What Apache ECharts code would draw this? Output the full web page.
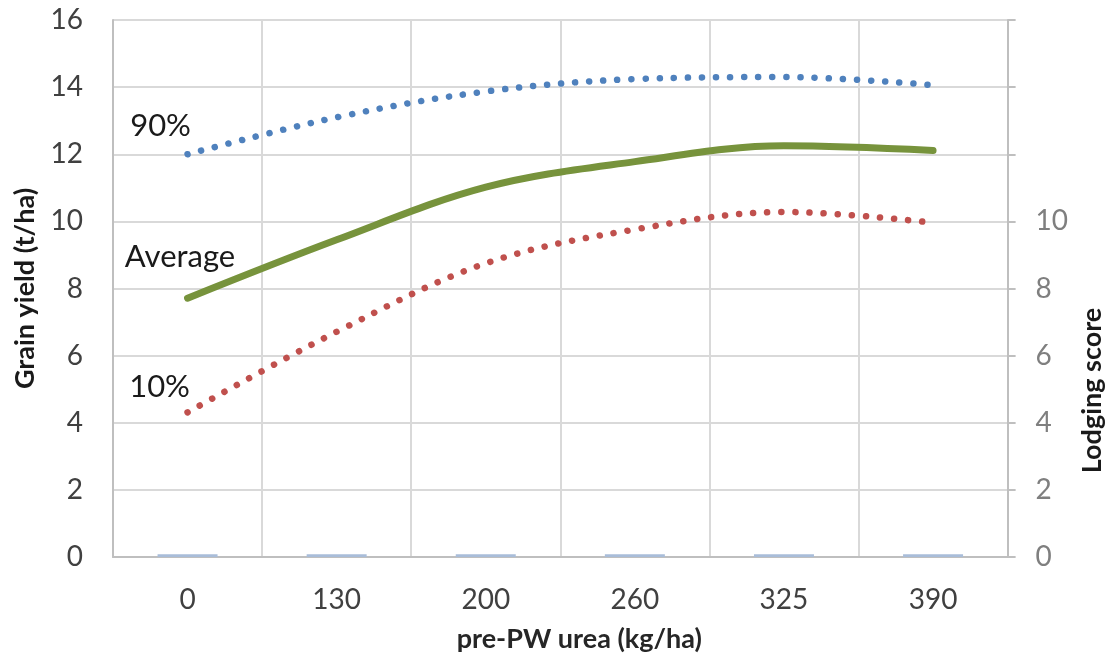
<!DOCTYPE html>
<html>
<head>
<meta charset="utf-8">
<script src="https://cdn.jsdelivr.net/npm/echarts@6/dist/echarts.min.js"></script>
<style>
html,body{margin:0;padding:0;background:#fff;}
#chart{width:1114px;height:659px;}
</style>
</head>
<body>
<div id="chart"></div>
<script>
const categories = ['0', '130', '200', '260', '325', '390'];
const p90 = [12.0, 13.1, 13.87, 14.24, 14.3, 14.06];
const average = [7.71, 9.45, 11.02, 11.78, 12.25, 12.11];
const p10 = [4.31, 6.71, 8.75, 9.76, 10.28, 9.96];
const lodging = [0.08, 0.08, 0.08, 0.08, 0.08, 0.08];
const leftTicks = [0, 2, 4, 6, 8, 10, 12, 14, 16];
const rightLabelMax = 10;

const FONT = 'Lato';
const chart = echarts.init(document.getElementById('chart'));

function tag(text, idx, vals, dx, dy) {
  return {
    symbol: 'circle', symbolSize: 1,
    itemStyle: {color: 'transparent'},
    data: [{
      coord: [categories[idx], vals[idx]],
      label: {show: true, formatter: text, position: 'inside', offset: [dx, dy],
        color: '#1a1a1a', fontSize: 31, fontFamily: FONT}
    }]
  };
}

chart.setOption({
  animation: false,
  textStyle: {fontFamily: FONT},
  grid: {left: 113, right: 102, top: 20, bottom: 102, containLabel: false},
  xAxis: {
    type: 'category', data: categories, boundaryGap: true,
    axisLine: {lineStyle: {color: '#BFBFBF', width: 2}},
    axisTick: {show: false},
    axisLabel: {color: '#404040', fontSize: 28, margin: 29, fontFamily: FONT, interval: 0},
    splitLine: {show: true, interval: 0, lineStyle: {color: '#D9D9D9', width: 2}},
    name: 'pre-PW urea (kg/ha)', nameLocation: 'middle', nameGap: 69,
    nameTextStyle: {color: '#262626', fontSize: 27, fontWeight: 'bold', fontFamily: FONT,
      padding: [0, 0, 0, 38]}
  },
  yAxis: [{
    type: 'value', min: leftTicks[0], max: leftTicks[leftTicks.length - 1], interval: 2,
    axisLine: {show: true, lineStyle: {color: '#BFBFBF', width: 2}},
    axisTick: {show: false},
    axisLabel: {color: '#404040', fontSize: 28, margin: 30, fontFamily: FONT},
    splitLine: {show: true, lineStyle: {color: '#D9D9D9', width: 2}},
    name: 'Grain yield (t/ha)', nameLocation: 'middle', nameGap: 74, nameRotate: 90,
    nameTextStyle: {color: '#1a1a1a', fontSize: 27, fontWeight: 'bold', fontFamily: FONT}
  }, {
    type: 'value', min: 0, max: 16, interval: 2, position: 'right',
    axisLine: {show: true, lineStyle: {color: '#BFBFBF', width: 2}},
    axisTick: {show: true, length: 8, lineStyle: {color: '#BFBFBF', width: 2}},
    axisLabel: {color: '#7F7F7F', fontSize: 28, margin: 28, fontFamily: FONT,
      formatter: v => (v <= rightLabelMax ? String(v) : '')},
    splitLine: {show: false},
    name: 'Lodging score', nameLocation: 'middle', nameGap: 68, nameRotate: 90,
    nameTextStyle: {color: '#1a1a1a', fontSize: 27, fontWeight: 'bold', fontFamily: FONT,
      padding: [0, 204, 0, 0]}
  }],
  series: [{
    name: 'Lodging', type: 'bar', yAxisIndex: 1, data: lodging, barWidth: 60,
    itemStyle: {color: '#A9BDD9'}, z: 1
  }, {
    name: '90%', type: 'line', data: p90, smooth: 0.35, showSymbol: false, symbol: 'none',
    lineStyle: {color: '#4F81BD', width: 6.5, type: [0.1, 14], cap: 'round'},
    markPoint: tag('90%', 0, p90, -27, -28), z: 3
  }, {
    name: 'Average', type: 'line', data: average, smooth: 0.35, showSymbol: false, symbol: 'none',
    lineStyle: {color: '#77933C', width: 7, cap: 'round'},
    markPoint: tag('Average', 0, average, -7.5, -41), z: 3
  }, {
    name: '10%', type: 'line', data: p10, smooth: 0.35, showSymbol: false, symbol: 'none',
    lineStyle: {color: '#C0504D', width: 6.5, type: [0.1, 14], cap: 'round'},
    markPoint: tag('10%', 0, p10, -28, -25), z: 3
  }]
});
</script>
</body>
</html>
